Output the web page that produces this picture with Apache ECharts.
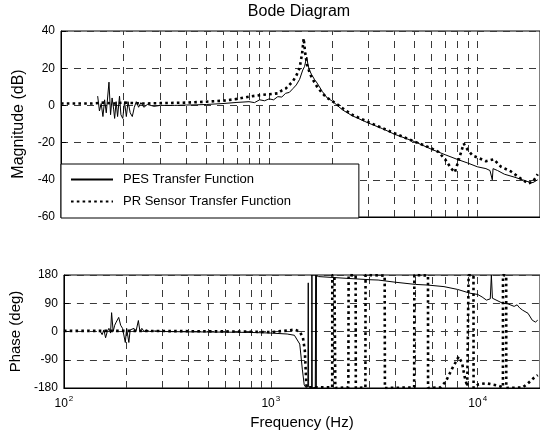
<!DOCTYPE html>
<html><head><meta charset="utf-8">
<script src="https://cdn.jsdelivr.net/npm/echarts/dist/echarts.min.js"></script>
<style>html,body{margin:0;padding:0;background:#fff}#c{width:540px;height:436px}</style>
</head><body><div id="c"></div>
<script>
// ---- Data ----
const seriesNames = ['PES Transfer Function', 'PR Sensor Transfer Function'];
const xTickValues = [100, 1000, 10000];
const gridFreqs = [200,300,400,500,600,700,800,900,1000,2000,3000,4000,5000,6000,7000,8000,9000,10000];
const magTicks = [-60, -40, -20, 0, 20, 40];
const phaseTicks = [-180, -90, 0, 90, 180];

const pesMagFreq = [150,153,156,159,162,165,170,173,176,179,181,184,187,191,194,198,202,206,210,215,220,225,230,236,242,250,260,280,300,350,400,450,500,600,700,800,850,900,950,1000,1050,1100,1150,1200,1250,1300,1350,1400,1450,1480,1500,1517,1535,1560,1600,1650,1700,1800,1900,2000,2250,2500,3000,3500,4000,5000,6000,7000,8000,9000,10000,11000,11500,11700,11800,11900,12500,13500,15000,16500,17500,18500,19500];
const pesMagDb   = [5,-3,1,-6,3,-4,12.5,-5,4,-2,-7,2,-6,5,-5,-7,2,-6,2,-4,-6,-1,2,-1,1.5,-1,0.5,-0.5,0,0,0.2,0.3,0.5,1,1.6,2,1.5,3,2.5,3.5,3,4.7,4.5,6.5,7,9,11,14,19,21,24,26,22,19,16.5,14,12,7.5,4,2.5,-2.4,-5.5,-9.5,-12.5,-15.5,-19.5,-23.5,-26.5,-29,-31,-33,-34,-35,-36,-40,-34,-35,-37,-38.5,-40,-41,-41.5,-40];

const prMagFreq = [100,120,140,160,180,200,250,300,400,500,600,700,800,900,1000,1100,1150,1200,1250,1300,1350,1400,1440,1465,1490,1520,1560,1600,1700,1800,1900,2000,2500,3000,4000,5000,6000,6500,7000,7500,7800,8100,8600,9000,9500,10000,11000,12000,13000,14500,16000,17500,18500,19500];
const prMagDb   = [1,1,1,1.5,1,1.5,1,1.2,1.5,2,2.5,3.5,4.7,5.5,6,6.5,8,9,11,13,16,20,28,36,28,22,18,15,10,6.5,4,2.5,-5,-9,-15,-19.5,-23,-25,-29,-34,-36,-30,-20.5,-24,-27,-28,-30,-29,-33,-35.5,-39,-42,-41,-37];

const pesPhFreq = [150,153,156,159,162,165,168,170,173,176,179,184,188,192,195,198,201,206,209,213,218,223,229,233,238,244,250,260,280,300,400,600,800,1000,1200,1300,1380,1420,1450,1476,1510,1517,1523,1575,1580,1586,1640,1650,1656,1662,1668,1700,2000,3000,3300,4000,5000,5720,6870,8000,9180,10000,10500,11030,11500,11640,11780,12000,13200,14000,15000,15500,15950,16480,17500,18350,19000,19500];
const pesPhDeg  = [0,-10,5,-20,0,10,-5,60,0,20,30,45,20,10,15,-35,10,-35,5,0,10,0,35,0,10,0,5,0,2,0,-1,-2,-3,-5,-8,-12,-40,-120,-170,-178,-176,155,-176,-178,180,-180,-178,180,-180,178,176,175,172,165,164,157,150,148,143,134,122,118,110,100,104,180,106,100,90,88,80,85,75,68,58,36,30,36];

const prPhFreq = [100,200,400,700,1000,1200,1300,1380,1430,1460,1480,1490,1980,1982,2030,2050,2370,2377,2570,2575,2865,2870,3550,3560,4930,4940,5750,5755,6590,7000,7500,8090,8400,8640,8900,9030,9035,9540,9550,10100,11000,12500,13240,13250,13730,13740,16500,17500,18500,19500];
const prPhDeg  = [2,2,1,0,-2,3,6,0,-20,-60,-150,-178,-178,180,178,-180,-178,180,178,-180,-178,180,178,-180,-178,180,178,-180,-178,-160,-120,-80,-100,-144,-175,-180,180,178,-180,-168,-165,-172,-178,180,178,-180,-178,-165,-150,-139];

// ---- Chart ----
const zip = (a, b) => a.map((v, i) => [v, b[i]]);
const FONT = 'Liberation Sans, Arial, Helvetica, sans-serif';
const dash = [7, 6];
const gridLineColor = '#3a3a3a';

function xAxis(gi, showLabels) {
  return {
    type: 'log', gridIndex: gi, logBase: 10, min: 100, max: 20000,
    axisLine: { show: true, onZero: false, lineStyle: { color: '#000', width: 1 } },
    axisTick: { show: true, inside: true, length: 5, lineStyle: { color: '#000' } },
    splitLine: { show: false },
    axisLabel: {
      show: showLabels, color: '#000', fontFamily: FONT, fontSize: 12, margin: 7,
      showMaxLabel: false,
      formatter: v => {
        const e = Math.log10(v);
        const r = Math.round(e);
        return (Math.abs(e - r) < 1e-6 && xTickValues.indexOf(Math.pow(10, r)) >= 0) ? '10{s|' + r + '}' : '';
      },
      rich: { s: { fontSize: 8, fontFamily: FONT, color: '#000', verticalAlign: 'bottom', padding: [0, 0, 10, 1] } }
    },
    name: showLabels ? 'Frequency (Hz)' : '',
    nameLocation: 'middle', nameGap: 27,
    nameTextStyle: { color: '#000', fontFamily: FONT, fontSize: 15 }
  };
}
function yAxis(gi, ticks, name, gap, fs) {
  return {
    type: 'value', gridIndex: gi, min: ticks[0], max: ticks[ticks.length - 1],
    interval: ticks[1] - ticks[0],
    name: name, nameLocation: 'middle', nameGap: gap,
    nameTextStyle: { color: '#000', fontFamily: FONT, fontSize: fs },
    axisLine: { show: true, onZero: false, lineStyle: { color: '#000', width: 1 } },
    axisTick: { show: true, inside: true, length: 5, lineStyle: { color: '#000' } },
    axisLabel: { color: '#000', fontFamily: FONT, fontSize: 12, margin: 6 },
    splitLine: { show: true, lineStyle: { color: gridLineColor, type: dash, width: 1 } }
  };
}
const vLines = {
  silent: true, z: 1, symbol: ['none', 'none'], label: { show: false }, animation: false,
  lineStyle: { color: gridLineColor, type: dash, width: 1 },
  emphasis: { disabled: true },
  data: gridFreqs.map(f => ({ xAxis: f }))
};
const solid = { color: '#000', width: 1, type: 'solid' };
const dotted = { color: '#000', width: 2.6, type: [2.6, 3.2], cap: 'butt' };
function lineSeries(name, data, xi, style, mark) {
  const s = {
    name: name, type: 'line', xAxisIndex: xi, yAxisIndex: xi, data: data,
    showSymbol: false, symbol: 'none', lineStyle: style, itemStyle: { color: '#000' },
    animation: false, emphasis: { disabled: true }, clip: true
  };
  if (mark) s.markLine = vLines;
  return s;
}

const chart = echarts.init(document.getElementById('c'), null, { renderer: 'canvas' });
chart.setOption({
  backgroundColor: '#fff',
  animation: false,
  graphic: [{
    type: 'text', x: 299, y: 4,
    style: { text: 'Bode Diagram', font: '16px ' + FONT, fill: '#000', textAlign: 'center', align: 'center', textVerticalAlign: 'top', verticalAlign: 'top' }
  }],
  grid: [
    { left: 61, right: -5, top: 31, height: 186, show: true, borderColor: '#000', borderWidth: 1, backgroundColor: 'transparent' },
    { left: 61, right: -5, top: 275, height: 113, show: true, borderColor: '#000', borderWidth: 1, backgroundColor: 'transparent' }
  ],
  xAxis: [xAxis(0, false), xAxis(1, true)],
  yAxis: [yAxis(0, magTicks, 'Magnitude (dB)', 28, 16), yAxis(1, phaseTicks, 'Phase (deg)', 36, 15)],
  legend: {
    data: seriesNames, orient: 'vertical', left: 61, top: 164, z: 10,
    itemWidth: 42, itemHeight: 14, itemGap: 9, padding: [9, 68, 10, 9],
    backgroundColor: '#fff', borderColor: '#000', borderWidth: 1, borderRadius: 0,
    selectedMode: false,
    itemStyle: { opacity: 0, borderWidth: 0 },
    textStyle: { color: '#000', fontFamily: FONT, fontSize: 13, padding: [0, 0, 0, 5] }
  },
  series: [
    lineSeries(seriesNames[0], zip(pesMagFreq, pesMagDb), 0, solid, true),
    lineSeries(seriesNames[1], zip(prMagFreq, prMagDb), 0, dotted, false),
    lineSeries(seriesNames[0], zip(pesPhFreq, pesPhDeg), 1, solid, true),
    lineSeries(seriesNames[1], zip(prPhFreq, prPhDeg), 1, dotted, false)
  ]
});
</script>
</body></html>
